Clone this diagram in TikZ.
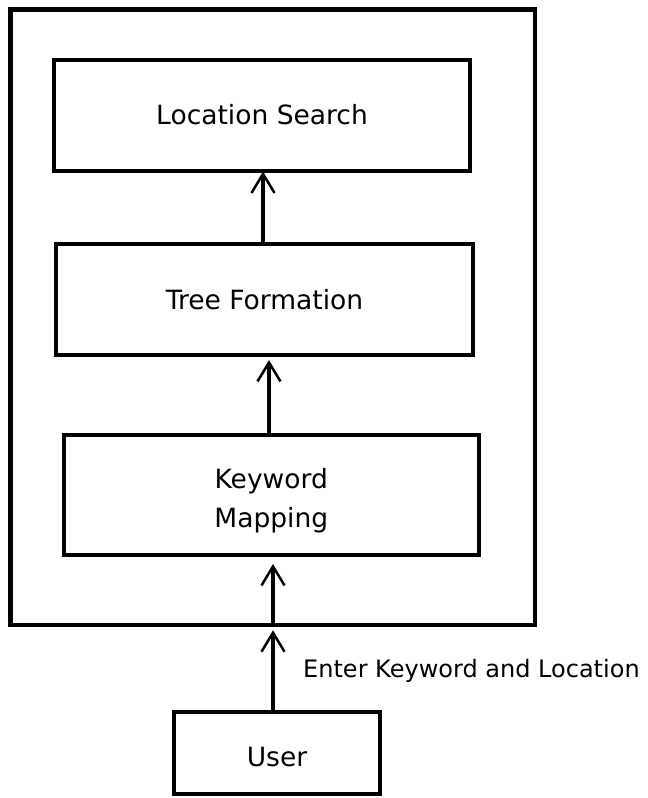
\documentclass[tikz,border=0pt]{standalone}
\usepackage{fontspec}
\setmainfont{DejaVu Sans}
\usetikzlibrary{arrows.meta}
\begin{document}
\begin{tikzpicture}[x=1pt,y=-1pt,
  box/.style={draw,line width=4pt,inner sep=0pt,align=center,font=\fontsize{26.5}{39}\selectfont},
  arr/.style={line width=3.5pt,-{Straight Barb[length=19pt,width=23pt,line width=2.5pt]}},
  lbl/.style={font=\fontsize{24}{30}\selectfont,inner sep=0pt}]
\useasboundingbox (0,0) rectangle (648,798);
\fill[white] (0,0) rectangle (648,798);
\node[draw,line width=4.5pt,minimum width=524.5pt,minimum height=615.5pt,inner sep=0pt] (outer) at (272.75,317.25) {};
\node[box,minimum width=416pt,minimum height=111pt] (ls) at (262,115) {Location Search};
\node[box,minimum width=417pt,minimum height=111.5pt] (tf) at (264.5,299.25) {Tree Formation};
\node[box,minimum width=415.5pt,minimum height=120pt] (km) at (271.25,495) {\rule{0pt}{31pt}Keyword\\Mapping};
\node[box,minimum width=206pt,minimum height=82pt] (user) at (277,753) {\rule{0pt}{27pt}User};
\coordinate (c1) at (263,0);
\coordinate (c2) at (269,0);
\coordinate (c3) at (273,0);
\draw[arr,shorten >=-1pt] (tf.north -| c1) -- (ls.south -| c1);
\draw[arr,shorten >=3pt] (km.north -| c2) -- (tf.south -| c2);
\draw[arr,shorten >=3pt] (user.north -| c3) -- (outer.south -| c3);
\draw[arr,shorten >=7pt] (outer.south -| c3) -- (km.south -| c3);
\node[lbl,anchor=base west] (label) at (303,677) {Enter Keyword and Location};
\end{tikzpicture}
\end{document}
